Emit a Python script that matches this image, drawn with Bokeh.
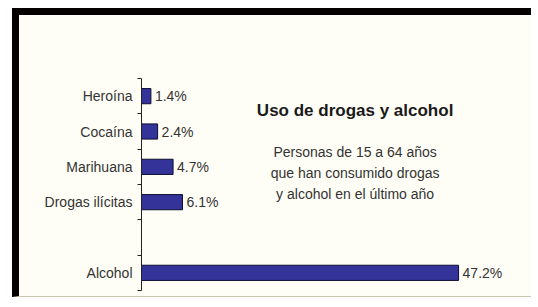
from bokeh.plotting import figure
from bokeh.models import Range1d, FixedTicker, Label
from bokeh.core.properties import value
from bokeh.embed import file_html
from bokeh.resources import INLINE

# ---- data (bottom to top; "" is the empty slot between groups) ----
categories = ["Alcohol", "", "Drogas ilícitas", "Marihuana", "Cocaína", "Heroína"]
percent = [47.2, None, 6.1, 4.7, 2.4, 1.4]
title_text = "Uso de drogas y alcohol"
subtitle_text = "Personas de 15 a 64 años\nque han consumido drogas\ny alcohol en el último año"

FONT = "Liberation Sans"
BG = "#fffef6"

pos = [i + 0.5 for i, c in enumerate(categories) if c]
vals = [v for c, v in zip(categories, percent) if c]
labs = [c for c in categories if c]
txt = ["%.1f%%" % v for v in vals]

p = figure(width=519, height=289, output_backend="svg", toolbar_location=None,
           x_range=Range1d(0, 59.1), y_range=Range1d(0, len(categories)),
           x_axis_location=None, min_border_left=122, min_border_top=63,
           min_border_bottom=14, min_border_right=0)
p.margin = (8, 0, 0, 12)
p.styles = {"border-top": "7px solid #050000", "border-left": "7px solid #050000",
            "border-bottom": "1px solid #cfc8b0"}
p.background_fill_color = BG
p.border_fill_color = BG
p.outline_line_color = None
p.xgrid.visible = False
p.ygrid.visible = False

yax = p.yaxis[0]
yax.ticker = FixedTicker(ticks=pos, minor_ticks=list(range(len(categories) + 1)))
yax.major_label_overrides = {y: l for y, l in zip(pos, labs)}
yax.major_tick_line_color = None
yax.major_tick_out = 0
yax.major_tick_in = 0
yax.major_label_standoff = 5
yax.minor_tick_out = 4
yax.minor_tick_in = 0
yax.minor_tick_line_color = "#222222"
yax.axis_line_color = "#222222"
yax.major_label_text_font = FONT
yax.major_label_text_font_size = "14px"
yax.major_label_text_color = "#333333"

p.hbar(y=pos, left=0, right=vals, height=0.43, fill_color="#333399",
       line_color="#0d0d33", line_width=1)
p.text(x=vals, y=pos, text=txt, x_offset=4, text_baseline="middle",
       text_font=value(FONT), text_font_size="14px", text_color="#333333")

p.add_layout(Label(x=31.8, y=5.1, text=title_text, text_align="center",
                   text_baseline="middle", text_font=FONT, text_font_size="17px",
                   text_font_style="bold", text_color="#1a1a1a"))
p.add_layout(Label(x=31.8, y=3.33, text=subtitle_text, text_align="center",
                   text_baseline="middle", text_font=FONT, text_font_size="14px",
                   text_line_height=1.3, text_color="#333333"))

open("out.html", "w").write(file_html(p, INLINE))
